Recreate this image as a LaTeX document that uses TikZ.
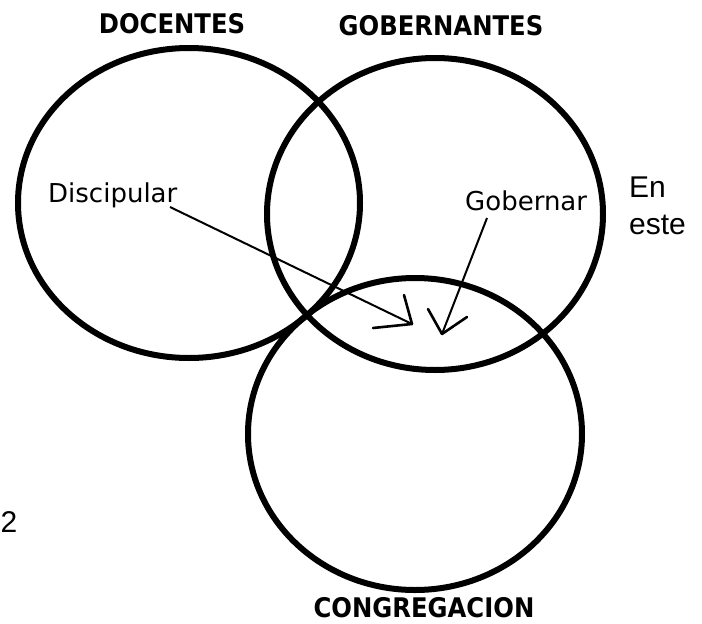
\documentclass[tikz,border=0pt]{standalone}
\usepackage{fontspec}
\setmainfont{DejaVu Sans}
\newfontfamily\hdfont[FakeStretch=0.9]{DejaVu Sans}
\newfontfamily\arialfont{Liberation Sans}
\begin{document}
\begin{tikzpicture}[x=1pt,y=-1pt,
  ring/.style={line width=6pt},
  head/.style={font=\hdfont\bfseries\fontsize{27}{30}\selectfont, anchor=base, inner sep=0pt},
  lab/.style={font=\fontsize{26}{30}\selectfont, anchor=base west, inner sep=0pt},
  side/.style={font=\arialfont\fontsize{30}{36}\selectfont, anchor=base west, inner sep=0pt},
  shaft/.style={line width=2pt},
  barb/.style={line width=2.6pt, line cap=round}]
\useasboundingbox (0,0) rectangle (702,624);
\fill[white] (0,0) rectangle (702,624);
% circles
\coordinate (c1) at (189,203);
\coordinate (c2) at (435,214);
\coordinate (c3) at (415,434);
\draw[ring] (c1) ellipse [x radius=171, y radius=155];
\draw[ring] (c2) ellipse [x radius=168, y radius=156];
\draw[ring] (c3) ellipse [x radius=167, y radius=156];
% headings
\node[head] (doc) at (172,33) {DOCENTES};
\node[head] (gob) at (441,35) {GOBERNANTES};
\node[head] (con) at (424,617) {CONGREGACION};
% labels
\node[lab] (disc) at (48,202) {Discipular};
\node[lab] (gobr) at (465,210) {Gobernar};
\node[side] (en) at (629,197) {En};
\node[side] (este) at (629,234) {este};
\node[side] (two) at (0.5,532) {2};
% arrows
\coordinate (s1) at (170,207);
\coordinate (t1) at (412,324);
\coordinate (s2) at (487,218);
\coordinate (t2) at (442,334);
\draw[shaft] (s1) -- (t1);
\draw[barb] (t1) -- ++(-39,4);
\draw[barb] (t1) -- ++(-8,-29);
\draw[shaft] (s2) -- (t2);
\draw[barb] (t2) -- ++(-14,-25);
\draw[barb] (t2) -- ++(25,-17);
\end{tikzpicture}
\end{document}
